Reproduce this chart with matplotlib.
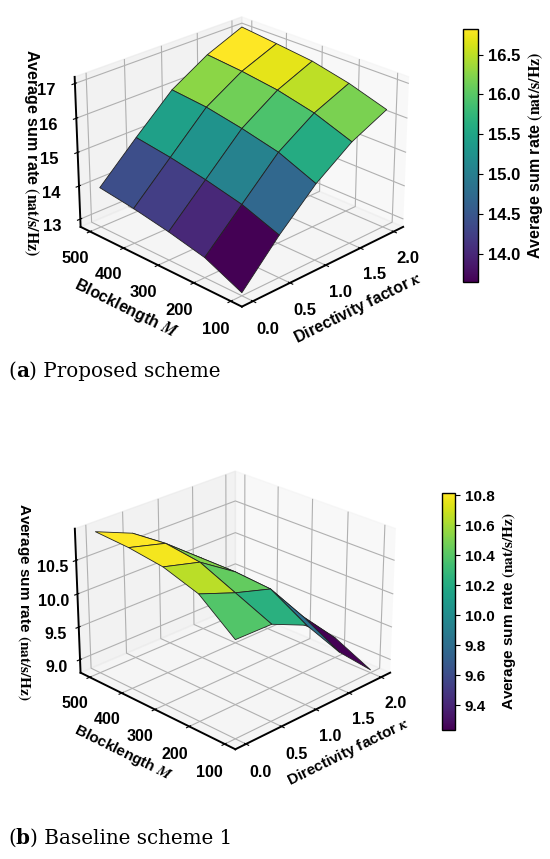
import numpy as np
import matplotlib
matplotlib.use('Agg')
import matplotlib.pyplot as plt
from matplotlib.text import Annotation

plt.rcParams['font.family'] = ['Liberation Sans', 'DejaVu Sans']
plt.rcParams['font.weight'] = 'bold'
plt.rcParams['mathtext.fontset'] = 'stix'

# ---------------- data ----------------
kappa = [0.0, 0.5, 1.0, 1.5, 2.0]
blocklength = [100, 200, 300, 400, 500]

# rows: blocklength (100..500), columns: kappa (0..2)
rate_proposed = [
    [12.85, 14.00, 15.00, 15.75, 16.25],
    [13.35, 14.40, 15.45, 16.15, 16.60],
    [13.60, 14.65, 15.70, 16.40, 16.85],
    [13.80, 14.85, 15.90, 16.55, 16.98],
    [13.95, 15.00, 16.00, 16.65, 17.10],
]
rate_baseline = [
    [10.23, 10.22, 9.98, 9.35, 8.84],
    [10.65, 10.45, 10.29, 9.65, 9.10],
    [10.82, 10.68, 10.33, 9.70, 9.10],
    [10.89, 10.75, 10.33, 9.74, 9.12],
    [10.92, 10.70, 10.31, 9.76, 9.13],
]

kappa_ticks = [0.0, 0.5, 1.0, 1.5, 2.0]
M_ticks = [100, 200, 300, 400, 500]
z_ticks_a = [13, 14, 15, 16, 17]
z_ticks_b = [9.0, 9.5, 10.0, 10.5]
cb_ticks_a = [14.0, 14.5, 15.0, 15.5, 16.0, 16.5]
cb_ticks_b = [9.4, 9.6, 9.8, 10.0, 10.2, 10.4, 10.6, 10.8]

zlabel = r'Average sum rate $\mathrm{(nat/s/Hz)}$'
captions = [('a', ') Proposed scheme'), ('b', ') Baseline scheme 1')]

fig = plt.figure(figsize=(5.5, 8.59), dpi=100)


def draw(ax_rect, cax_rect, Z, zticks, zfmt, cbticks, tfs, cbfs, lfs, zpad, zlpad):
    ax = fig.add_axes(ax_rect, projection='3d')
    K, MM = np.meshgrid(kappa, blocklength)
    surf = ax.plot_surface(K, MM, np.array(Z), cmap='viridis',
                           edgecolor='#222222', linewidth=0.6,
                           rstride=1, cstride=1, antialiased=True)
    ax.view_init(elev=25, azim=-135)
    ax.set_box_aspect((4, 4, 2.85))
    ax.set_xticks(kappa_ticks)
    ax.set_xticklabels([f'{v:.1f}' for v in kappa_ticks])
    ax.set_yticks(M_ticks)
    ax.set_yticklabels([str(v) for v in M_ticks])
    ax.set_zticks(zticks)
    ax.set_zticklabels([zfmt.format(v) for v in zticks])
    for lab in ax.get_xticklabels() + ax.get_yticklabels() + ax.get_zticklabels():
        lab.set_fontsize(tfs)
        lab.set_fontweight('bold')
    ax.zaxis.set_tick_params(pad=zpad)
    ax.set_xlabel(r'Directivity factor $\kappa$', fontsize=lfs, fontweight='bold', labelpad=4)
    ax.set_ylabel(r'Blocklength $M$', fontsize=lfs, fontweight='bold', labelpad=4)
    ax.zaxis.set_rotate_label(False)
    ax.set_zlabel(zlabel, fontsize=lfs, fontweight='bold', labelpad=zlpad, rotation=-90)
    for axis in (ax.xaxis, ax.yaxis, ax.zaxis):
        axis.line.set_linewidth(1.4)
        axis.line.set_color('black')
    cax = fig.add_axes(cax_rect)
    cb = fig.colorbar(surf, cax=cax)
    cb.set_ticks(cbticks)
    cb.set_ticklabels([f'{v:.1f}' for v in cbticks])
    cb.ax.tick_params(labelsize=cbfs)
    for lab in cb.ax.get_yticklabels():
        lab.set_fontweight('bold')
    cb.set_label(zlabel, fontsize=lfs, fontweight='bold')
    cb.outline.set_linewidth(1.0)
    return ax


draw([0.1065, 0.608, 0.649, 0.416], [463/550, 1-282/859, 15/550, 253/859],
     rate_proposed, z_ticks_a, '{:d}', cb_ticks_a, 12, 12, 11.5, 3.5, -2)
draw([0.108, 0.0943, 0.623, 0.399], [442/550, 1-730/859, 13/550, 237/859],
     rate_baseline, z_ticks_b, '{:.1f}', cb_ticks_b, 11.5, 11, 11, 1.5, 1)


def caption(y, letter, rest):
    fam = 'DejaVu Serif'
    fs = 14.3
    t1 = fig.text(8/550, y, '(', fontsize=fs, family=fam,
                  fontweight='normal', va='baseline')
    t2 = Annotation(letter, xy=(1, 0), xycoords=t1, va='bottom', ha='left',
                    fontsize=fs, family=fam, fontweight='bold')
    fig.add_artist(t2)
    t3 = Annotation(rest, xy=(1, 0), xycoords=t2, va='bottom', ha='left',
                    fontsize=fs, family=fam, fontweight='normal')
    fig.add_artist(t3)


caption(1 - 377/859, *captions[0])
caption(1 - 844/859, *captions[1])

fig.savefig('out.png', dpi=100)
